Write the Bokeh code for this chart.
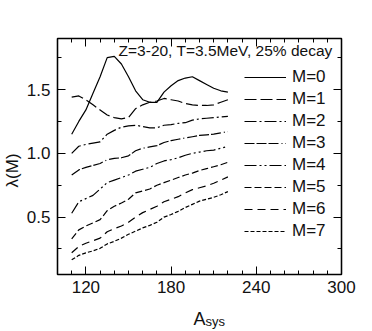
from bokeh.plotting import figure
from bokeh.models import FixedTicker, LinearAxis, Label, Range1d, PrintfTickFormatter, CustomJSTickFormatter
from bokeh.embed import file_html
from bokeh.resources import INLINE

A_sys = [110, 115, 120, 125, 130, 135, 140, 145, 150, 155, 160, 165, 170, 175,
         180, 185, 190, 195, 200, 205, 210, 215, 220]

M0 = [1.15, 1.25, 1.34, 1.47, 1.60, 1.75, 1.76, 1.70, 1.60, 1.49, 1.42, 1.40,
      1.40, 1.48, 1.53, 1.57, 1.59, 1.60, 1.57, 1.54, 1.51, 1.49, 1.48]
M1 = [1.44, 1.45, 1.42, 1.38, 1.34, 1.30, 1.28, 1.27, 1.28, 1.35, 1.38, 1.40,
      1.41, 1.43, 1.42, 1.41, 1.39, 1.38, 1.375, 1.375, 1.38, 1.40, 1.42]
M2 = [1.00, 1.055, 1.07, 1.08, 1.09, 1.15, 1.18, 1.205, 1.215, 1.22, 1.21, 1.20,
      1.20, 1.22, 1.225, 1.235, 1.24, 1.26, 1.27, 1.275, 1.28, 1.285, 1.29]
M3 = [0.83, 0.87, 0.89, 0.905, 0.92, 0.95, 0.96, 0.965, 0.98, 1.02, 1.04, 1.05,
      1.06, 1.085, 1.10, 1.11, 1.12, 1.13, 1.14, 1.145, 1.15, 1.16, 1.17]
M4 = [0.53, 0.62, 0.645, 0.67, 0.72, 0.77, 0.79, 0.81, 0.83, 0.86, 0.875, 0.89,
      0.92, 0.94, 0.95, 0.965, 0.985, 1.00, 1.01, 1.02, 1.025, 1.04, 1.055]
M5 = [0.33, 0.40, 0.43, 0.455, 0.48, 0.55, 0.585, 0.61, 0.64, 0.69, 0.705, 0.72,
      0.75, 0.77, 0.79, 0.81, 0.83, 0.845, 0.865, 0.88, 0.895, 0.91, 0.93]
M6 = [0.22, 0.27, 0.295, 0.315, 0.335, 0.385, 0.41, 0.43, 0.46, 0.50, 0.535, 0.56,
      0.585, 0.62, 0.64, 0.66, 0.69, 0.715, 0.73, 0.745, 0.765, 0.79, 0.815]
M7 = [0.165, 0.20, 0.22, 0.235, 0.255, 0.29, 0.31, 0.335, 0.365, 0.39, 0.415, 0.435,
      0.46, 0.50, 0.52, 0.545, 0.575, 0.60, 0.625, 0.64, 0.655, 0.675, 0.70]

series = [M0, M1, M2, M3, M4, M5, M6, M7]
labels = ["M=0", "M=1", "M=2", "M=3", "M=4", "M=5", "M=6", "M=7"]
dashes = ["solid", "12 4", "12 3 2 3", "10 2 10 2 10 3 1 3", "12 3 2 3 2 3",
          "7 3", "8 5", "4 2"]

x_major = [120, 180, 240, 300]
x_minor = list(range(100, 301, 10))
y_major = [0.5, 1.0, 1.5]
y_minor = [0.25, 0.75, 1.25, 1.75]

FONT = "Liberation Sans"
TXT = "#111111"

p = figure(width=372, height=331, output_backend="svg", toolbar_location=None,
           x_range=Range1d(100, 300), y_range=Range1d(0.05, 1.9),
           min_border_left=57, min_border_right=31, min_border_top=38,
           min_border_bottom=57)
p.grid.visible = False
p.outline_line_color = "black"
p.outline_line_width = 1.4
p.background_fill_color = "white"
p.border_fill_color = "white"

for ys, lab, d in zip(series, labels, dashes):
    p.line(A_sys, ys, line_color="black", line_width=1.2, line_dash=d,
           legend_label=lab)

p.xaxis.ticker = FixedTicker(ticks=x_major, minor_ticks=x_minor)
p.yaxis.ticker = FixedTicker(ticks=y_major, minor_ticks=y_minor)

def style(ax, standoff=6):
    ax.axis_line_color = "black"
    ax.axis_line_width = 1.2
    ax.major_tick_in = 8
    ax.major_tick_out = 0
    ax.minor_tick_in = 4
    ax.minor_tick_out = 0
    ax.major_tick_line_color = "black"
    ax.minor_tick_line_color = "black"
    ax.major_label_text_font = FONT
    ax.major_label_text_color = TXT
    ax.major_label_text_font_size = "17px"
    ax.major_label_standoff = standoff

style(p.xaxis[0], 6)
style(p.yaxis[0], 7)
p.yaxis[0].formatter = PrintfTickFormatter(format="%.1f")

top = LinearAxis(ticker=FixedTicker(ticks=x_major, minor_ticks=x_minor),
                 formatter=CustomJSTickFormatter(code="return ''"))
right = LinearAxis(ticker=FixedTicker(ticks=y_major, minor_ticks=y_minor),
                   formatter=CustomJSTickFormatter(code="return ''"))
style(top, 0)
style(right, 0)
p.add_layout(top, "above")
p.add_layout(right, "right")

leg = p.legend[0]
leg.location = (187, 33)
leg.border_line_color = None
leg.background_fill_alpha = 0
leg.padding = 0
leg.margin = 0
leg.spacing = 2
leg.glyph_width = 42
leg.glyph_height = 20
leg.label_height = 20
leg.label_standoff = 6
leg.label_text_font = FONT
leg.label_text_font_size = "17px"
leg.label_text_color = TXT

p.add_layout(Label(x=293.7, y=1.806, text="Z=3-20, T=3.5MeV, 25% decay",
                   text_align="right", text_baseline="alphabetic",
                   text_font=FONT, text_font_size="15.5px", text_color=TXT))

# axis titles (A with subscript "sys", and lambda(M)) placed in the side panels
p.add_layout(Label(x=200, y=-0.295, text="A", text_align="center",
                   text_baseline="alphabetic", text_font=FONT,
                   text_font_size="18px", text_color=TXT), "below")
p.add_layout(Label(x=204.3, y=-0.318, text="sys", text_align="left",
                   text_baseline="alphabetic", text_font=FONT,
                   text_font_size="13px", text_color=TXT), "below")
p.add_layout(Label(x=68.3, y=0.866, text="λ(M)", angle=1.5708,
                   text_align="center", text_baseline="middle", text_font=FONT,
                   text_font_size="17px", text_color=TXT), "left")

open("out.html", "w").write(file_html(p, INLINE))
